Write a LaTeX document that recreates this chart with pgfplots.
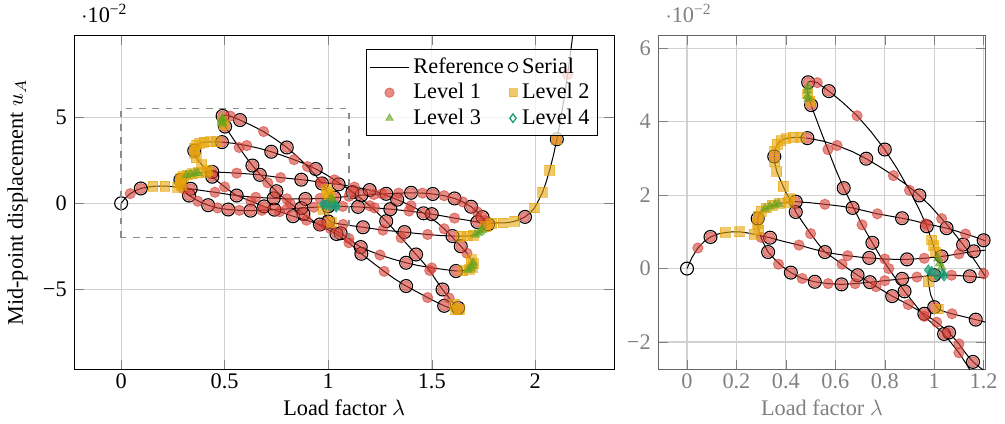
\documentclass[border=0pt]{standalone}
\usepackage{fontspec}
\setmainfont{Liberation Serif}
\usepackage{pgfplots}
\usepackage{pgfplotstable}
\pgfplotsset{compat=1.18}
\definecolor{lone}{RGB}{214,64,54}
\definecolor{ltwo}{RGB}{230,165,10}
\definecolor{lthree}{RGB}{102,166,30}
\definecolor{lfour}{RGB}{27,158,119}

\pgfplotstableread{
x y
0 0
0.02 0.30
0.044 0.56
0.07 0.74
0.095 0.86
0.125 0.94
0.154 0.98
0.185 1.00
0.212 1.00
0.245 0.97
0.272 0.93
0.30 0.89
0.336 0.84
0.39 0.74
0.453 0.64
0.50 0.55
0.558 0.45
0.60 0.40
0.65 0.35
0.70 0.31
0.737 0.29
0.80 0.26
0.85 0.25
0.89 0.25
0.96 0.28
1.03 0.33
1.10 0.40
1.16 0.47
1.22 0.51
1.28 0.55
1.34 0.59
1.40 0.61
1.455 0.59
1.505 0.54
1.56 0.44
1.61 0.28
1.65 0.08
1.69 -0.20
1.72 -0.50
1.745 -0.80
1.756 -1.00
1.75 -1.08
1.735 -1.11
1.72 -1.09
1.68 -1.00
1.61 -0.86
1.55 -0.73
1.50 -0.63
1.44 -0.53
1.39 -0.45
1.30 -0.34
1.224 -0.27
1.144 -0.21
1.07 -0.18
1.00 -0.18
0.93 -0.23
0.87 -0.28
0.80 -0.33
0.74 -0.37
0.68 -0.41
0.625 -0.43
0.571 -0.41
0.517 -0.36
0.466 -0.27
0.42 -0.11
0.385 0.06
0.355 0.25
0.328 0.45
0.305 0.75
0.292 1.00
0.285 1.22
0.287 1.40
0.295 1.52
0.31 1.61
0.33 1.68
0.355 1.74
0.38 1.78
0.41 1.81
0.44 1.82
0.50 1.79
0.558 1.75
0.62 1.70
0.67 1.65
0.72 1.57
0.77 1.49
0.82 1.43
0.87 1.37
0.92 1.30
0.965 1.22
1.01 1.16
1.05 1.10
1.09 1.02
1.127 0.94
1.165 0.86
1.20 0.77
1.24 0.64
1.28 0.46
1.333 0.21
1.37 0.02
1.40 -0.14
1.43 -0.34
1.46 -0.58
1.50 -0.90
1.528 -1.14
1.56 -1.48
1.60 -1.98
1.64 -2.49
1.67 -2.90
1.69 -3.28
1.70 -3.55
1.697 -3.72
1.685 -3.83
1.66 -3.90
1.617 -3.93
1.56 -3.84
1.50 -3.75
1.43 -3.60
1.376 -3.45
1.31 -3.23
1.25 -3.00
1.19 -2.72
1.157 -2.54
1.13 -2.33
1.10 -2.05
1.06 -1.74
1.01 -1.46
0.96 -1.23
0.895 -0.98
0.83 -0.75
0.785 -0.57
0.744 -0.40
0.69 -0.18
0.655 -0.02
0.627 0.12
0.59 0.30
0.558 0.45
0.53 0.68
0.50 0.95
0.47 1.24
0.44 1.54
0.42 1.85
0.40 2.07
0.389 2.24
0.375 2.45
0.363 2.64
0.356 2.85
0.353 3.05
0.356 3.22
0.363 3.35
0.373 3.44
0.388 3.51
0.41 3.555
0.435 3.57
0.46 3.57
0.487 3.55
0.55 3.47
0.607 3.35
0.67 3.18
0.725 2.99
0.78 2.77
0.835 2.53
0.89 2.27
0.94 1.99
0.985 1.70
1.03 1.36
1.075 1.01
1.117 0.65
1.16 0.26
1.20 -0.14
1.24 -0.58
1.28 -1.04
1.315 -1.50
1.352 -2.00
1.39 -2.50
1.424 -2.97
1.46 -3.45
1.49 -3.90
1.52 -4.45
1.552 -5.00
1.584 -5.50
1.61 -5.86
1.627 -6.07
1.632 -6.17
1.622 -6.21
1.60 -6.14
1.56 -5.95
1.52 -5.72
1.48 -5.47
1.43 -5.15
1.376 -4.80
1.32 -4.38
1.27 -3.95
1.21 -3.40
1.16 -2.93
1.13 -2.60
1.10 -2.29
1.04 -1.78
0.96 -1.30
0.88 -0.62
0.816 0.00
0.784 0.31
0.75 0.70
0.708 1.19
0.67 1.70
0.634 2.19
0.60 2.72
0.57 3.24
0.535 3.85
0.51 4.30
0.497 4.55
0.488 4.78
0.485 4.95
0.49 5.07
0.50 5.10
0.527 5.06
0.574 4.83
0.63 4.52
0.688 4.16
0.745 3.72
0.80 3.24
0.85 2.72
0.90 2.13
0.94 1.60
0.97 1.15
0.99 0.78
1.005 0.45
1.015 0.25
1.03 0.05
1.04 -0.12
1.03 -0.22
1.00 -0.20
0.98 -0.10
0.975 -0.20
0.976 -0.36
0.985 -0.70
1.00 -0.95
1.016 -1.10
1.04 -1.17
1.072 -1.23
1.12 -1.31
1.168 -1.39
1.22 -1.48
1.264 -1.56
1.32 -1.62
1.368 -1.67
1.42 -1.74
1.48 -1.81
1.54 -1.87
1.60 -1.90
1.64 -1.91
1.672 -1.90
1.70 -1.85
1.725 -1.74
1.745 -1.55
1.76 -1.36
1.772 -1.22
1.789 -1.15
1.82 -1.14
1.845 -1.14
1.875 -1.11
1.90 -1.04
1.925 -0.94
1.95 -0.79
1.975 -0.55
1.996 -0.27
2.015 0.15
2.035 0.64
2.05 1.15
2.069 1.91
2.088 2.80
2.104 3.72
2.12 4.70
2.138 6.00
2.156 7.47
2.17 8.70
2.182 9.90
}\refdata

\pgfplotstableread{
x y
0 0
0.095 0.86
0.336 0.84
0.558 0.45
0.737 0.29
0.89 0.25
1.03 0.33
1.16 0.47
1.28 0.55
1.40 0.61
1.505 0.54
1.61 0.28
1.69 -0.20
1.745 -0.80
1.72 -1.09
1.50 -0.63
1.30 -0.34
1.144 -0.21
1.00 -0.18
0.87 -0.28
0.74 -0.37
0.625 -0.43
0.517 -0.36
0.42 -0.11
0.328 0.45
0.286 1.36
0.44 1.82
0.67 1.65
0.87 1.37
1.05 1.10
1.20 0.77
1.333 0.21
1.46 -0.58
1.64 -2.49
1.617 -3.93
1.376 -3.45
1.157 -2.54
1.06 -1.74
0.96 -1.23
0.83 -0.75
0.69 -0.18
0.44 1.54
0.353 3.05
0.487 3.55
0.725 2.99
0.94 1.99
1.117 0.65
1.28 -1.04
1.424 -2.97
1.552 -5.00
1.627 -6.07
1.56 -5.95
1.376 -4.80
1.16 -2.93
1.04 -1.78
0.88 -0.62
0.75 0.70
0.634 2.19
0.502 4.45
0.49 5.07
0.574 4.83
0.80 3.24
0.97 1.15
1.00 -1.05
1.168 -1.39
1.368 -1.67
1.60 -1.90
1.772 -1.22
1.95 -0.79
2.104 3.72
}\serialdata

\pgfplotstableread{
x y
0.095 0.86
0.336 0.84
0.558 0.45
0.737 0.29
0.89 0.25
1.03 0.33
1.16 0.47
1.28 0.55
1.40 0.61
1.505 0.54
1.61 0.28
1.69 -0.20
1.745 -0.80
1.72 -1.09
1.50 -0.63
1.30 -0.34
1.144 -0.21
1.00 -0.18
0.87 -0.28
0.74 -0.37
0.625 -0.43
0.517 -0.36
0.42 -0.11
0.328 0.45
0.286 1.36
0.44 1.82
0.67 1.65
0.87 1.37
1.05 1.10
1.20 0.77
1.333 0.21
1.46 -0.58
1.64 -2.49
1.617 -3.93
1.376 -3.45
1.157 -2.54
1.06 -1.74
0.96 -1.23
0.83 -0.75
0.69 -0.18
0.44 1.54
0.353 3.05
0.487 3.55
0.725 2.99
0.94 1.99
1.117 0.65
1.28 -1.04
1.424 -2.97
1.552 -5.00
1.627 -6.07
1.56 -5.95
1.376 -4.80
1.16 -2.93
1.04 -1.78
0.88 -0.62
0.75 0.70
0.634 2.19
0.502 4.45
0.49 5.07
0.574 4.83
0.80 3.24
0.97 1.15
1.00 -1.05
1.168 -1.39
1.368 -1.67
1.60 -1.90
1.772 -1.22
1.95 -0.79
2.104 3.72
0.044 0.56
0.453 0.64
0.65 0.35
0.80 0.26
0.96 0.28
1.10 0.40
1.22 0.51
1.34 0.59
1.455 0.59
1.56 0.44
1.65 0.08
1.72 -0.50
1.756 -1.00
1.61 -0.86
1.39 -0.45
1.224 -0.27
1.07 -0.18
0.93 -0.23
0.80 -0.33
0.68 -0.41
0.571 -0.41
0.466 -0.27
0.37 0.12
0.30 0.85
0.558 1.75
0.77 1.49
0.965 1.22
1.127 0.94
1.26 0.55
1.40 -0.14
1.56 -1.48
1.67 -2.90
1.50 -3.75
1.25 -3.00
1.10 -2.05
1.01 -1.46
0.895 -0.98
0.765 -0.49
0.627 0.12
0.50 0.95
0.607 3.35
0.835 2.53
1.03 1.36
1.20 -0.14
1.352 -2.00
1.49 -3.90
1.584 -5.50
1.48 -5.47
1.27 -3.95
1.10 -2.29
0.96 -1.30
0.816 0.00
0.708 1.19
0.57 3.24
0.527 5.06
0.688 4.16
0.90 2.13
1.072 -1.23
1.264 -1.56
1.48 -1.81
2.156 7.47
}\levelone

\pgfplotstableread{
x y
0.154 0.98
0.212 1.00
0.272 0.93
0.29 1.05
0.285 1.22
0.288 1.42
0.30 1.56
0.32 1.65
0.345 1.72
0.375 1.78
0.41 1.81
0.415 1.90
0.389 2.24
0.363 2.64
0.355 2.90
0.355 3.20
0.365 3.38
0.38 3.48
0.40 3.54
0.43 3.57
0.46 3.57
0.497 4.55
0.488 4.75
1.69 -3.28
1.70 -3.50
1.697 -3.72
1.68 -3.84
1.65 -3.91
1.61 -5.86
1.632 -6.17
1.615 -6.19
0.99 0.78
0.998 0.62
1.005 0.45
0.976 -0.36
1.016 -1.10
1.64 -1.91
1.672 -1.90
1.70 -1.85
1.76 -1.36
1.789 -1.15
1.845 -1.14
1.90 -1.04
1.996 -0.27
2.035 0.64
2.069 1.91
2.104 3.72
}\leveltwo

\pgfplotstableread{
x y
0.315 1.63
0.335 1.69
0.355 1.74
0.37 1.76
0.49 4.95
0.487 4.85
0.488 4.70
0.49 4.62
1.71 -1.82
1.725 -1.74
1.735 -1.65
1.745 -1.55
1.70 -3.45
1.697 -3.62
1.69 -3.78
1.675 -3.86
1.015 0.28
1.022 0.14
1.03 0.03
}\levelthree

\pgfplotstableread{
x y
0.976 -0.04
0.99 -0.08
1.035 -0.14
1.04 -0.20
1.01 -0.19
}\levelfour

\pgfplotsset{
  refstyle/.style={black, line width=0.45pt, mark=none},
  serstyle/.style={only marks, mark=o, mark size=2.9pt, mark options={draw=black, line width=0.5pt},
    legend image post style={mark size=2.1pt}},
  lonestyle/.style={only marks, mark=*, mark size=2.3pt, mark options={draw=lone, fill=lone, fill opacity=0.6, draw opacity=0.6, line width=0.4pt},
    legend image post style={mark size=2.1pt}},
  ltwostyle/.style={only marks, mark=square*, mark size=2.2pt, mark options={draw=ltwo, fill=ltwo, fill opacity=0.6, draw opacity=0.6, line width=0.4pt},
    legend image post style={mark size=1.8pt}},
  lthreestyle/.style={only marks, mark=triangle*, mark size=2.2pt, mark options={draw=lthree, fill=lthree, fill opacity=0.6, draw opacity=0.6, line width=0.4pt},
    legend image post style={mark size=1.9pt}},
  lfourstyle/.style={only marks, mark=diamond*, mark size=2.3pt, mark options={draw=lfour, fill=lfour, fill opacity=0.7, draw opacity=0.8, line width=0.4pt},
    legend image post style={mark size=1.9pt, mark options={draw=lfour, fill=white, line width=0.6pt}}},
}

\begin{document}
\begin{tikzpicture}
\begin{axis}[
  clip mode=individual,
  scale only axis, width=242pt, height=150pt,
  xmin=-0.225, xmax=2.38, ymin=-9.65, ymax=9.75,
  xtick={0,0.5,1,1.5,2}, xticklabels={0,0.5,1,1.5,2},
  ytick={-5,0,5}, yticklabels={\textminus5,0,5},
  grid=major, grid style={black!18, line width=0.5pt},
  xticklabel style={yshift=1.5pt},
  xlabel={Load factor $\lambda$},
  xlabel style={yshift=2pt},
  ylabel={Mid-point displacement $u_A$},
  legend columns=2,
  legend style={at={(0.97,0.958)}, anchor=north east, draw=black, fill=white, fill opacity=0.75, text opacity=1, draw opacity=1, font=\normalsize, inner sep=1.5pt, row sep=-1pt,
    /tikz/every even column/.append style={column sep=0pt}},
  legend cell align=left,
]
\addplot[refstyle] table {\refdata};
\addlegendentry{Reference}
\addplot[serstyle] table {\serialdata};
\addlegendentry{Serial}
\addplot[lonestyle] table {\levelone};
\addlegendentry{Level 1}
\addplot[ltwostyle] table {\leveltwo};
\addlegendentry{Level 2}
\addplot[lthreestyle] table {\levelthree};
\addlegendentry{Level 3}
\addplot[lfourstyle] table {\levelfour};
\addlegendentry{Level 4}
\draw[dashed, black!45, line width=0.6pt] (axis cs:0,-2) rectangle (axis cs:1.1,5.5);
\node[anchor=south west, inner sep=0pt] at (rel axis cs:0.012,1.035) {$\cdot$10\textsuperscript{\textminus2}};
\end{axis}

\begin{axis}[
  clip mode=individual,
  at={(262pt,0)}, anchor=south west,
  scale only axis, width=146.6pt, height=150pt,
  xmin=-0.115, xmax=1.207, ymin=-2.75, ymax=6.35,
  xtick={0,0.2,0.4,0.6,0.8,1,1.2}, xticklabels={0,0.2,0.4,0.6,0.8,1,1.2},
  ytick={-2,0,2,4,6}, yticklabels={\textminus2,0,2,4,6},
  grid=major, grid style={black!18, line width=0.5pt},
  axis line style={black!60},
  tick style={black!50},
  ticklabel style={black!50},
  xticklabel style={yshift=1.5pt},
  xlabel={Load factor $\lambda$},
  xlabel style={black!50, yshift=2pt},
]
\addplot[refstyle] table {\refdata};
\addplot[serstyle] table {\serialdata};
\addplot[lonestyle] table {\levelone};
\addplot[ltwostyle] table {\leveltwo};
\addplot[lthreestyle] table {\levelthree};
\addplot[lfourstyle] table {\levelfour};
\node[anchor=south west, inner sep=0pt, text=black!50] at (rel axis cs:0.02,1.035) {$\cdot$10\textsuperscript{\textminus2}};
\end{axis}
\path (current bounding box.north) ++(0,2pt);
\end{tikzpicture}
\end{document}
